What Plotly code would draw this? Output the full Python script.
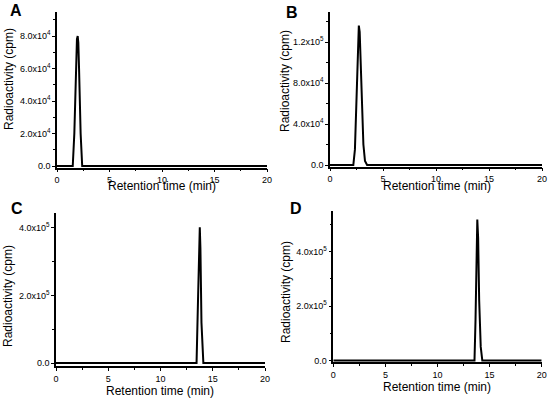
import plotly.graph_objects as go

# ---------------- data ----------------
A_time = [0, 1.50, 1.65, 1.80, 1.90, 1.97, 2.03, 2.10, 2.25, 2.40, 20]
A_cpm = [0, 0, 2.0e4, 6.0e4, 7.8e4, 8.0e4, 7.6e4, 6.0e4, 2.0e4, 0, 0]

B_time = [0, 2.20, 2.35, 2.45, 2.55, 2.65, 2.72, 2.80, 2.90, 3.00, 3.15, 3.30, 3.50, 20]
B_cpm = [0, 0, 1.5e4, 5.0e4, 1.0e5, 1.32e5, 1.36e5, 1.30e5, 9.5e4, 5.5e4, 2.0e4, 4.0e3, 0, 0]

C_time = [0, 13.45, 13.60, 13.70, 13.76, 13.82, 13.92, 14.10, 20]
C_cpm = [0, 0, 2.0e5, 3.6e5, 4.02e5, 3.4e5, 1.2e5, 0, 0]

D_time = [0, 13.55, 13.65, 13.75, 13.82, 13.90, 14.00, 14.15, 14.30, 20]
D_cpm = [0, 0, 1.5e5, 4.2e5, 5.17e5, 4.5e5, 2.2e5, 5.0e4, 0, 0]

x_ticks = [0, 5, 10, 15, 20]
A_yticks = [0, 2e4, 4e4, 6e4, 8e4]
A_ylabels = ["0.0", "2.0x10<sup>4</sup>", "4.0x10<sup>4</sup>", "6.0x10<sup>4</sup>", "8.0x10<sup>4</sup>"]
B_yticks = [0, 4e4, 8e4, 1.2e5]
B_ylabels = ["0.0", "4.0x10<sup>4</sup>", "8.0x10<sup>4</sup>", "1.2x10<sup>5</sup>"]
C_yticks = [0, 2e5, 4e5]
C_ylabels = ["0.0", "2.0x10<sup>5</sup>", "4.0x10<sup>5</sup>"]
D_yticks = [0, 2e5, 4e5]
D_ylabels = ["0.0", "2.0x10<sup>5</sup>", "4.0x10<sup>5</sup>"]

panel_letters = ["A", "B", "C", "D"]
x_title = "Retention time (min)"
y_title = "Radioactivity (cpm)"

W, H = 550, 398
def px(x):
    return x / W
def py(y):
    return 1 - y / H

FONT = "Liberation Sans, Arial, sans-serif"

fig = go.Figure()

panels = [
    (A_time, A_cpm, A_yticks, A_ylabels, (57, 267), (167.5, 12), (-920, 94770), 1e4),
    (B_time, B_cpm, B_yticks, B_ylabels, (330, 542), (166.5, 12), (-1460, 149300), 2e4),
    (C_time, C_cpm, C_yticks, C_ylabels, (56, 265), (366, 212.7), (-8800, 445300), 1e5),
    (D_time, D_cpm, D_yticks, D_ylabels, (333.3, 541.7), (362, 211), (-5500, 548600), 1e5),
]

for i, (t, c, yt, yl, xp, yp, yr, ymin) in enumerate(panels):
    n = "" if i == 0 else str(i + 1)
    fig.add_trace(go.Scatter(x=t, y=c, mode="lines",
                             line=dict(color="black", width=2),
                             xaxis="x" + n, yaxis="y" + n, showlegend=False))
    fig.layout["xaxis" + n] = dict(
        domain=[px(xp[0]), px(xp[1])], range=[0, 20], anchor="y" + n,
        automargin=False,
        tickmode="array", tickvals=x_ticks, ticktext=[str(v) for v in x_ticks],
        ticks="outside", ticklen=3, tickwidth=1, tickcolor="black",
        minor=dict(tickmode="linear", tick0=0, dtick=2.5, ticks="outside",
                   ticklen=2, tickcolor="black"),
        showline=True, linecolor="black", linewidth=1.5,
        showgrid=False, zeroline=False,
        tickfont=dict(family=FONT, size=9, color="black"))
    fig.layout["yaxis" + n] = dict(
        domain=[py(yp[0]), py(yp[1])], range=list(yr), anchor="x" + n,
        automargin=False,
        tickmode="array", tickvals=yt, ticktext=yl,
        ticks="outside", ticklen=3, tickwidth=1, tickcolor="black",
        minor=dict(tickmode="linear", tick0=0, dtick=ymin, ticks="outside",
                   ticklen=2, tickcolor="black"),
        showline=True, linecolor="black", linewidth=1.5,
        showgrid=False, zeroline=False,
        tickfont=dict(family=FONT, size=9, color="black"))

annotations = []
letter_pos = [(16, 10), (292, 12), (17, 208), (296, 208)]
xtitle_pos = [(162, 186), (437, 186), (160, 391), (437, 387)]
ytitle_pos = [(9, 79), (285, 81), (8, 296), (286, 292)]
for i in range(4):
    lx, ly = letter_pos[i]
    annotations.append(dict(x=px(lx), y=py(ly), xref="paper", yref="paper",
                            xanchor="center", yanchor="middle",
                            text="<b>" + panel_letters[i] + "</b>", showarrow=False,
                            font=dict(family=FONT, size=16, color="black")))
    tx, ty = xtitle_pos[i]
    annotations.append(dict(x=px(tx), y=py(ty), xref="paper", yref="paper",
                            xanchor="center", yanchor="middle",
                            text=x_title, showarrow=False,
                            font=dict(family=FONT, size=12, color="black")))
    vx, vy = ytitle_pos[i]
    annotations.append(dict(x=px(vx), y=py(vy), xref="paper", yref="paper",
                            xanchor="center", yanchor="middle",
                            text=y_title, showarrow=False, textangle=-90,
                            font=dict(family=FONT, size=12, color="black")))

fig.update_layout(width=W, height=H, margin=dict(l=0, r=0, t=0, b=0),
                  paper_bgcolor="white", plot_bgcolor="white",
                  annotations=annotations, showlegend=False)

fig.write_html("out.html", config={"displayModeBar": False},
               post_script="document.body.style.margin='0';document.body.style.padding='0';")
